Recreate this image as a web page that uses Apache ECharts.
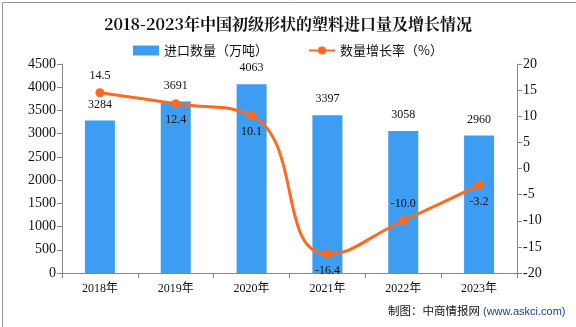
<!DOCTYPE html>
<html><head><meta charset="utf-8">
<script src="https://cdn.jsdelivr.net/npm/echarts@6/dist/echarts.min.js"></script>
<style>html,body{margin:0;padding:0;background:#fff}#c{width:576px;height:327px}</style>
</head><body><div id="c"></div>
<script>
var categories = ['2018年','2019年','2020年','2021年','2022年','2023年'];
var importVolume = [3284, 3691, 4063, 3397, 3058, 2960];
var growthRate = [14.5, 12.4, 10.1, -16.4, -10.0, -3.2];
var growthLabelPos = ['top','bottom','bottom','bottom','top','bottom'];
var leftTicks = {min:0, max:4500, interval:500};
var rightTicks = {min:-20, max:20, interval:5};

var serif = '"Liberation Serif","DejaVu Serif","Noto Sans CJK SC",serif';
var cjk = '"Noto Sans CJK SC",sans-serif';
var chart = echarts.init(document.getElementById('c'));
chart.setOption({
  animation:false,
  backgroundColor:'#fff',
  title:{text:'2018-2023年中国初级形状的塑料进口量及增长情况',left:'center',top:11,
    textStyle:{fontSize:16,fontWeight:'bold',color:'#111',fontFamily:'"Noto Serif CJK SC","Noto Sans CJK SC",serif'}},
  legend:{top:39,left:'center',itemGap:40,itemWidth:26,itemHeight:10,
    textStyle:{fontSize:13,color:'#111',fontFamily:cjk},
    data:[{name:'进口数量（万吨）',icon:'rect'},{name:'数量增长率（%）'}]},
  grid:{left:62,right:59,top:64,bottom:54},
  xAxis:{type:'category',data:categories,
    axisLine:{lineStyle:{color:'#888'}},axisTick:{show:true,length:5,lineStyle:{color:'#888'}},
    axisLabel:{color:'#111',fontSize:12,margin:10,fontFamily:serif}},
  yAxis:[
    {type:'value',min:leftTicks.min,max:leftTicks.max,interval:leftTicks.interval,
      axisLine:{show:true,lineStyle:{color:'#888'}},axisTick:{show:true,length:5,lineStyle:{color:'#888'}},
      splitLine:{show:false},axisLabel:{color:'#111',fontSize:14,margin:6,fontFamily:serif,
        formatter:function(v){return String(v);}}},
    {type:'value',min:rightTicks.min,max:rightTicks.max,interval:rightTicks.interval,
      axisLine:{show:true,lineStyle:{color:'#888'}},axisTick:{show:true,length:5,lineStyle:{color:'#888'}},
      splitLine:{show:false},axisLabel:{color:'#111',fontSize:14,margin:6,fontFamily:serif,
        formatter:function(v){return String(v);}}}
  ],
  series:[
    {name:'进口数量（万吨）',type:'bar',data:importVolume,barWidth:30,
      itemStyle:{color:'#3d9df2'},
      label:{show:true,position:'top',distance:10,color:'#111',fontSize:12,fontFamily:serif}},
    {name:'数量增长率（%）',type:'line',yAxisIndex:1,smooth:0.5,
      data:growthRate.map(function(v,i){return {value:v,label:{position:growthLabelPos[i]}};}),
      symbol:'circle',symbolSize:9,
      lineStyle:{color:'#ff6a1f',width:3},itemStyle:{color:'#ff6a1f'},
      label:{show:true,distance:6,color:'#111',fontSize:12,fontFamily:serif,
        formatter:function(p){return p.value.toFixed(1);}}}
  ],
  graphic:[
    {type:'rect',left:0,top:0,shape:{width:575,height:326},style:{fill:'none',stroke:'#999',lineWidth:1}},
    {type:'text',left:388,top:305,style:{text:'制图：中商情报网',fontSize:11.5,fill:'#111',fontFamily:cjk}},
    {type:'text',left:483,top:306,style:{text:'(www.askci.com)',fontSize:11,fill:'#1a3f8a',fontFamily:'"Liberation Sans",sans-serif'}}
  ]
});
</script></body></html>
